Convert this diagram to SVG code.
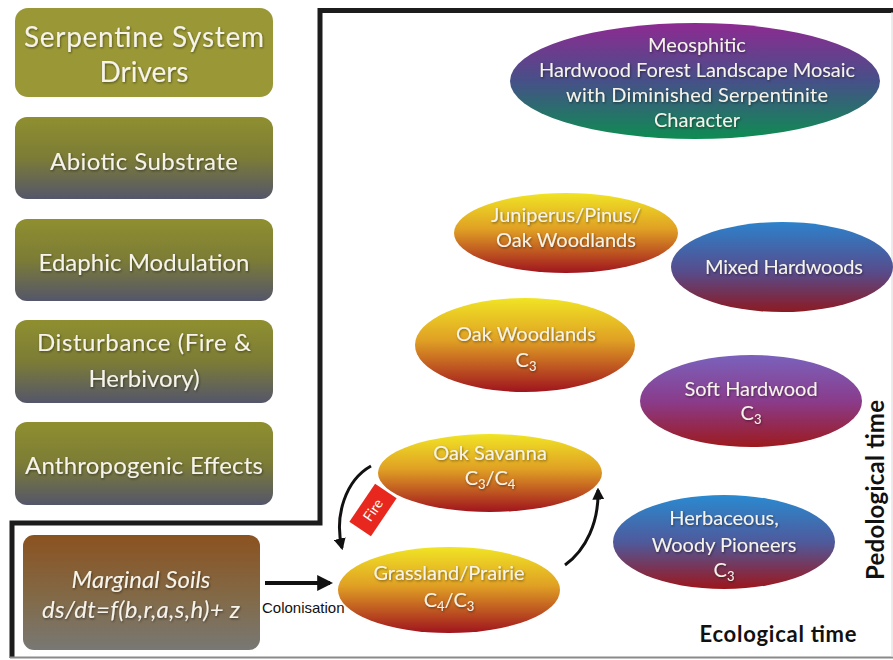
<svg xmlns="http://www.w3.org/2000/svg" width="893" height="660" viewBox="0 0 893 660">
<defs>
<style>
.lbl{font-family:Lato,"Open Sans","DejaVu Sans",sans-serif;fill:#f6f3ea;text-anchor:middle;filter:url(#ts)}
.side{font-size:24px}
.ell{font-size:20px}
.sub{font-size:13px}
.axis{font-family:Lato,"Open Sans","DejaVu Sans",sans-serif;font-weight:bold;fill:#111;text-anchor:middle}
.frame{fill:none;stroke:#1c1c1c;stroke-width:5}
.conn{fill:none;stroke:#111;stroke-width:3}
</style>
<filter id="ts" x="-10%" y="-20%" width="120%" height="150%">
<feDropShadow dx="0.8" dy="1.2" stdDeviation="0.8" flood-color="#000" flood-opacity="0.45"/>
</filter>
<linearGradient id="gOlive" x1="0" y1="0" x2="0" y2="1">
<stop offset="0" stop-color="#8f8f30"/>
<stop offset="0.5" stop-color="#7c7c36"/>
<stop offset="1" stop-color="#54566a"/>
</linearGradient>
<linearGradient id="gSoil" x1="0" y1="0" x2="0" y2="1">
<stop offset="0" stop-color="#8b5220"/>
<stop offset="0.55" stop-color="#826a48"/>
<stop offset="1" stop-color="#787874"/>
</linearGradient>
<linearGradient id="gWarm" x1="0" y1="0" x2="0" y2="1">
<stop offset="0" stop-color="#f0e424"/>
<stop offset="0.45" stop-color="#e0a024"/>
<stop offset="1" stop-color="#a0141e"/>
</linearGradient>
<linearGradient id="gMeo" x1="0" y1="0" x2="0" y2="1">
<stop offset="0" stop-color="#8e2a92"/>
<stop offset="0.5" stop-color="#465088"/>
<stop offset="1" stop-color="#0e8c52"/>
</linearGradient>
<linearGradient id="gMixed" x1="0" y1="0" x2="0" y2="1">
<stop offset="0" stop-color="#2c82cc"/>
<stop offset="0.55" stop-color="#574c8c"/>
<stop offset="1" stop-color="#8c1a22"/>
</linearGradient>
<linearGradient id="gSoft" x1="0" y1="0" x2="0" y2="1">
<stop offset="0" stop-color="#7a62bc"/>
<stop offset="0.5" stop-color="#8a3c8c"/>
<stop offset="1" stop-color="#9c1a1e"/>
</linearGradient>
<linearGradient id="gHerb" x1="0" y1="0" x2="0" y2="1">
<stop offset="0" stop-color="#2a8ad0"/>
<stop offset="0.5" stop-color="#4e5a9c"/>
<stop offset="1" stop-color="#9c161c"/>
</linearGradient>
<marker id="ah" viewBox="0 0 10 10" refX="8" refY="5" markerWidth="12" markerHeight="12" markerUnits="userSpaceOnUse" orient="auto">
<path d="M0,0 L10,5 L0,10 z" fill="#111"/>
</marker>
<marker id="ahBig" viewBox="0 0 10 10" refX="8" refY="5" markerWidth="16" markerHeight="16" markerUnits="userSpaceOnUse" orient="auto">
<path d="M0,0 L10,5 L0,10 z" fill="#111"/>
</marker>
</defs>
<rect width="893" height="660" fill="#ffffff"/>

<!-- frame -->
<path class="frame" d="M12 658 L12 523 L320 523 L320 10.5 L893 10.5"/>
<line x1="10" y1="657.5" x2="893" y2="657.5" stroke="#8a8a8a" stroke-width="2"/>
<line x1="892" y1="12" x2="892" y2="657" stroke="#d8d8d8" stroke-width="1"/>

<!-- drivers column -->
<g id="drivers">
<rect x="15" y="8" width="258" height="89" rx="13" fill="#9a9836"/>
<text class="lbl" x="144" y="47" font-size="28" textLength="240">Serpentine System</text>
<text class="lbl" x="144" y="82" font-size="28">Drivers</text>
</g>
<g id="abiotic">
<rect x="15" y="117" width="258" height="82" rx="12" fill="url(#gOlive)"/>
<text class="lbl side" x="144" y="170" textLength="188">Abiotic Substrate</text>
</g>
<g id="edaphic">
<rect x="15" y="219" width="258" height="82" rx="12" fill="url(#gOlive)"/>
<text class="lbl side" x="144" y="271" textLength="211">Edaphic Modulation</text>
</g>
<g id="disturbance">
<rect x="15" y="320" width="258" height="83" rx="12" fill="url(#gOlive)"/>
<text class="lbl side" x="144" y="351" textLength="214">Disturbance (Fire &amp;</text>
<text class="lbl side" x="144" y="387">Herbivory)</text>
</g>
<g id="anthropogenic">
<rect x="15" y="422" width="258" height="83" rx="12" fill="url(#gOlive)"/>
<text class="lbl side" x="144" y="474" textLength="238">Anthropogenic Effects</text>
</g>

<!-- marginal soils -->
<g id="marginal-soils">
<rect x="23" y="535" width="237" height="115" rx="11" fill="url(#gSoil)"/>
<text class="lbl" x="141" y="588" font-size="24" font-style="italic">Marginal Soils</text>
<text class="lbl" x="141" y="618" font-size="24" font-style="italic" textLength="198">ds/dt=f(b,r,a,s,h)+ z</text>
</g>

<!-- ellipses -->
<g id="meosphitic">
<ellipse cx="695" cy="81" rx="185" ry="58" fill="url(#gMeo)"/>
<text class="lbl ell" x="697" y="52">Meosphitic</text>
<text class="lbl ell" x="697" y="77" textLength="316">Hardwood Forest Landscape Mosaic</text>
<text class="lbl ell" x="697" y="102" textLength="262">with Diminished Serpentinite</text>
<text class="lbl ell" x="697" y="127">Character</text>
</g>
<g id="juniperus">
<ellipse cx="566" cy="233" rx="112" ry="40" fill="url(#gWarm)"/>
<text class="lbl ell" x="566" y="222">Juniperus/Pinus/</text>
<text class="lbl ell" x="566" y="247">Oak Woodlands</text>
</g>
<g id="mixed-hardwoods">
<ellipse cx="782" cy="267" rx="111" ry="45" fill="url(#gMixed)"/>
<text class="lbl ell" x="784" y="274" textLength="158">Mixed Hardwoods</text>
</g>
<g id="oak-woodlands">
<ellipse cx="525" cy="345" rx="110" ry="47" fill="url(#gWarm)"/>
<text class="lbl ell" x="526" y="341">Oak Woodlands</text>
<text class="lbl ell" x="526" y="367">C<tspan class="sub" dy="4">3</tspan></text>
</g>
<g id="soft-hardwood">
<ellipse cx="751" cy="401" rx="111" ry="46" fill="url(#gSoft)"/>
<text class="lbl ell" x="751" y="396">Soft Hardwood</text>
<text class="lbl ell" x="751" y="420">C<tspan class="sub" dy="4">3</tspan></text>
</g>
<g id="herbaceous">
<ellipse cx="724" cy="542" rx="111" ry="47" fill="url(#gHerb)"/>
<text class="lbl ell" x="724" y="525">Herbaceous,</text>
<text class="lbl ell" x="724" y="552">Woody Pioneers</text>
<text class="lbl ell" x="724" y="577">C<tspan class="sub" dy="4">3</tspan></text>
</g>
<g id="oak-savanna">
<ellipse cx="490" cy="473" rx="112" ry="39" fill="url(#gWarm)"/>
<text class="lbl ell" x="490" y="460">Oak Savanna</text>
<text class="lbl ell" x="490" y="485">C<tspan class="sub" dy="4">3</tspan><tspan dy="-4">/C</tspan><tspan class="sub" dy="4">4</tspan></text>
</g>
<g id="grassland">
<ellipse cx="449" cy="590" rx="111" ry="43" fill="url(#gWarm)"/>
<text class="lbl ell" x="449" y="580">Grassland/Prairie</text>
<text class="lbl ell" x="449" y="607">C<tspan class="sub" dy="4">4</tspan><tspan dy="-4">/C</tspan><tspan class="sub" dy="4">3</tspan></text>
</g>

<!-- connectors -->
<g id="connectors">
<path d="M265 583 L330 583" fill="none" stroke="#111" stroke-width="4" marker-end="url(#ahBig)"/>
<path class="conn" d="M371 466 C346 480 334 515 342 548" marker-end="url(#ah)"/>
<path class="conn" d="M565 565 C586 550 599 522 598 490" marker-end="url(#ah)"/>
</g>
<g id="fire-label" transform="translate(373 510) rotate(-56)">
<rect x="-23" y="-13" width="46" height="26" fill="#e8281e"/>
<text x="0" y="5" font-family="Lato,'Open Sans',sans-serif" font-size="14" fill="#ffffff" text-anchor="middle">Fire</text>
</g>
<text x="262" y="613" font-family="'Liberation Sans',Arial,sans-serif" font-size="15" fill="#111">Colonisation</text>

<!-- axes -->
<text class="axis" transform="translate(884 490) rotate(-90)" font-size="24" textLength="180">Pedological time</text>
<text class="axis" x="778" y="642" font-size="22" textLength="157">Ecological time</text>
</svg>
